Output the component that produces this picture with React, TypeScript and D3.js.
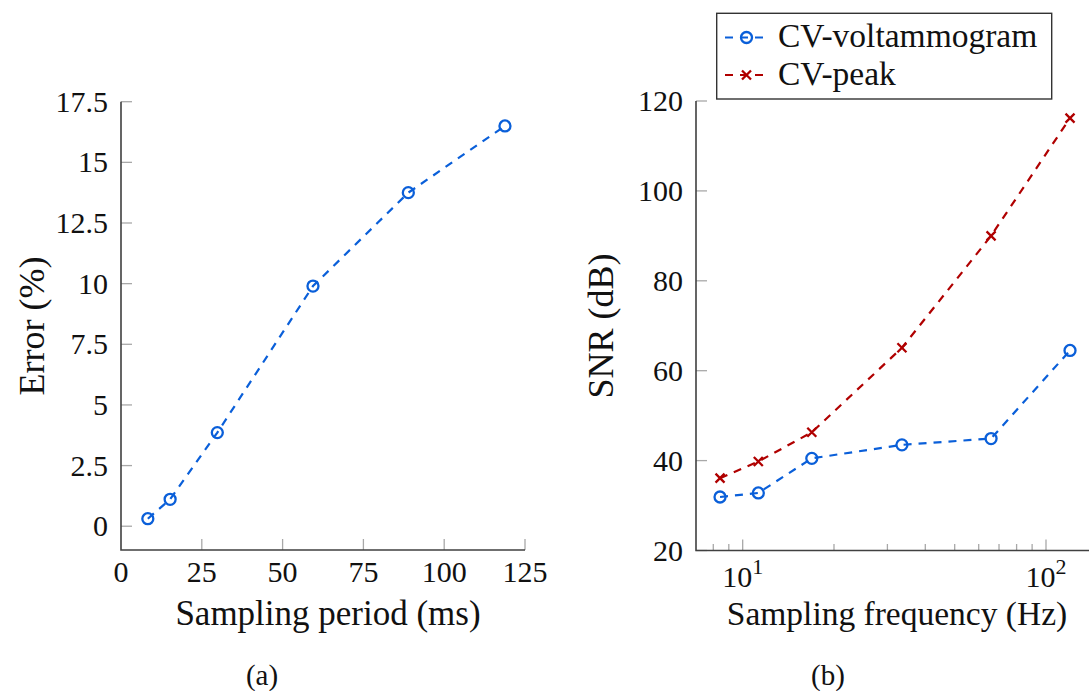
import { useRef, useEffect } from 'react'
import * as d3 from 'd3'

const W = 1089
const H = 691
const FONT = 'Liberation Serif'

const BLUE = '#0a5fd9'
const RED = '#b00000'
const AXIS = '#404040'
const TICK = '#a8a8a8'

// (a) error vs sampling period
const PERIODS = [8.3, 15.2, 29.8, 59.4, 88.9, 118.8]
const ERRORS = [0.31, 1.11, 3.86, 9.9, 13.75, 16.5]
const PERIOD_TICKS = [0, 25, 50, 75, 100, 125]
const ERROR_TICKS = [0, 2.5, 5, 7.5, 10, 12.5, 15, 17.5]

// (b) SNR vs sampling frequency
const FREQS = [8.42, 11.26, 16.9, 33.5, 65.9, 120]
const SNR_VOLT = [31.9, 32.8, 40.5, 43.5, 44.9, 64.5]
const SNR_PEAK = [36.1, 39.8, 46.3, 65.1, 90, 116.2]
const SNR_TICKS = [20, 40, 60, 80, 100, 120]
const FREQ_MAJOR = [10, 100]
const FREQ_MINOR = [8, 9, 20, 30, 40, 50, 60, 70, 80, 90]
const LEGEND = ['CV-voltammogram', 'CV-peak']

export default function App() {
  const svgRef = useRef<SVGSVGElement>(null)

  useEffect(() => {
    const svg = d3.select(svgRef.current)
    svg.selectAll('*').remove()

    const txt = (x: number, y: number, s: string, size: number, anchor = 'middle') =>
      svg.append('text').attr('x', x).attr('y', y).text(s)
        .attr('font-family', FONT).attr('font-size', size).attr('text-anchor', anchor).attr('fill', '#111')

    const vtxt = (x: number, y: number, s: string, size: number) =>
      svg.append('text').attr('transform', `translate(${x},${y}) rotate(-90)`).text(s)
        .attr('font-family', FONT).attr('font-size', size).attr('text-anchor', 'middle').attr('fill', '#111')

    const circle = (g: any, x: number, y: number, c: string) =>
      g.append('circle').attr('cx', x).attr('cy', y).attr('r', 5.5)
        .attr('fill', 'none').attr('stroke', c).attr('stroke-width', 2.3)

    const cross = (g: any, x: number, y: number, c: string) => {
      const s = 4.5
      g.append('path').attr('d', `M${x - s},${y - s}L${x + s},${y + s}M${x - s},${y + s}L${x + s},${y - s}`)
        .attr('stroke', c).attr('stroke-width', 2.3).attr('fill', 'none')
    }

    // ---------- (a) ----------
    const xa = d3.scaleLinear().domain([0, 125]).range([121, 525])
    const ya = d3.scaleLinear().domain([-0.98, 17.5]).range([550, 101.7])

    const ga = svg.append('g')
    PERIOD_TICKS.slice(1).forEach(t => {
      ga.append('line').attr('x1', xa(t)).attr('x2', xa(t)).attr('y1', 550).attr('y2', 539)
        .attr('stroke', TICK).attr('stroke-width', 1.3)
    })
    PERIOD_TICKS.forEach(t => txt(xa(t), 582, String(t), 30))
    ERROR_TICKS.forEach(t => {
      ga.append('line').attr('x1', 121).attr('x2', 132).attr('y1', ya(t)).attr('y2', ya(t))
        .attr('stroke', TICK).attr('stroke-width', 1.3)
      txt(108, ya(t) + 10, String(t), 30, 'end')
    })
    ga.append('path').attr('d', `M121,${ya(17.5)}V550H525`)
      .attr('fill', 'none').attr('stroke', AXIS).attr('stroke-width', 1.6)

    const lineA = d3.line<number>().x((d, i) => xa(PERIODS[i])).y(d => ya(d))
    ga.append('path').datum(ERRORS).attr('d', lineA)
      .attr('fill', 'none').attr('stroke', BLUE).attr('stroke-width', 2.2).attr('stroke-dasharray', '8,7')
    ERRORS.forEach((e, i) => circle(ga, xa(PERIODS[i]), ya(e), BLUE))

    txt(328, 625, 'Sampling period (ms)', 35)
    vtxt(44, 326, 'Error (%)', 36)
    txt(262, 685, '(a)', 29)

    // ---------- (b) ----------
    const xb = d3.scaleLog().domain([7, 145]).range([695.7, 742.7 + 303.3 * Math.log10(14.5)])
    const yb = d3.scaleLinear().domain([20, 120]).range([550.5, 101])

    const gb = svg.append('g')
    FREQ_MINOR.forEach(t => {
      gb.append('line').attr('x1', xb(t)).attr('x2', xb(t)).attr('y1', 550.5).attr('y2', 544)
        .attr('stroke', TICK).attr('stroke-width', 1.3)
    })
    FREQ_MAJOR.forEach((t, i) => {
      gb.append('line').attr('x1', xb(t)).attr('x2', xb(t)).attr('y1', 550.5).attr('y2', 539.5)
        .attr('stroke', TICK).attr('stroke-width', 1.3)
      const label = svg.append('text').attr('x', xb(t)).attr('y', 587)
        .attr('font-family', FONT).attr('font-size', 30).attr('text-anchor', 'middle').attr('fill', '#111')
      label.append('tspan').text('10')
      label.append('tspan').text(String(i + 1)).attr('font-size', 22).attr('dy', -13)
    })
    SNR_TICKS.forEach(t => {
      gb.append('line').attr('x1', 696).attr('x2', 707).attr('y1', yb(t)).attr('y2', yb(t))
        .attr('stroke', TICK).attr('stroke-width', 1.3)
      txt(683, yb(t) + 10, String(t), 30, 'end')
    })
    gb.append('path').attr('d', `M696,101V550.5H${W}`)
      .attr('fill', 'none').attr('stroke', AXIS).attr('stroke-width', 1.6)

    const lineB = (ys: number[]) => d3.line<number>().x((d, i) => xb(FREQS[i])).y(d => yb(d))(ys)
    gb.append('path').attr('d', lineB(SNR_VOLT))
      .attr('fill', 'none').attr('stroke', BLUE).attr('stroke-width', 2.2).attr('stroke-dasharray', '8,7')
    gb.append('path').attr('d', lineB(SNR_PEAK))
      .attr('fill', 'none').attr('stroke', RED).attr('stroke-width', 2.2).attr('stroke-dasharray', '8,7')
    SNR_VOLT.forEach((v, i) => circle(gb, xb(FREQS[i]), yb(v), BLUE))
    SNR_PEAK.forEach((v, i) => cross(gb, xb(FREQS[i]), yb(v), RED))

    txt(897, 625, 'Sampling frequency (Hz)', 33.5)
    vtxt(613, 326, 'SNR (dB)', 36)
    txt(828, 685, '(b)', 29)

    // Legend
    const lg = svg.append('g')
    lg.append('rect').attr('x', 716.7).attr('y', 13.3).attr('width', 335).attr('height', 85.7)
      .attr('fill', '#fff').attr('stroke', '#333').attr('stroke-width', 1.4)
    LEGEND.forEach((name, i) => {
      const y = 37.5 + i * 37.5
      const c = i === 0 ? BLUE : RED
      lg.append('line').attr('x1', 725).attr('x2', 766).attr('y1', y).attr('y2', y)
        .attr('stroke', c).attr('stroke-width', 2.2).attr('stroke-dasharray', '8,7')
      if (i === 0) circle(lg, 746.5, y, c)
      else cross(lg, 746.5, y, c)
      txt(778, y + 9.5, name, 33.5, 'start')
    })
  }, [])

  return (
    <svg ref={svgRef} width={W} height={H}
      style={{ position: 'absolute', left: 0, top: 0, background: '#fff' }} />
  )
}
